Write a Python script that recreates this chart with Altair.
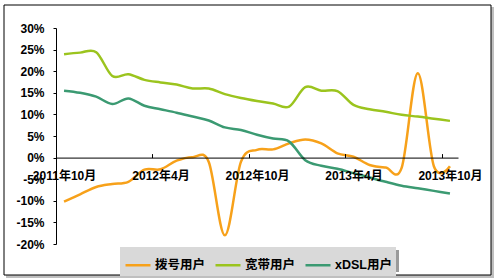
import altair as alt
import pandas as pd

# ---- data -------------------------------------------------------------
months = ["2011年10月", "2011年11月", "2011年12月", "2012年1月", "2012年2月",
          "2012年3月", "2012年4月", "2012年5月", "2012年6月", "2012年7月",
          "2012年8月", "2012年9月", "2012年10月", "2012年11月", "2012年12月",
          "2013年1月", "2013年2月", "2013年3月", "2013年4月", "2013年5月",
          "2013年6月", "2013年7月", "2013年8月", "2013年9月", "2013年10月"]

series_names = ["拨号用户", "宽带用户", "xDSL用户"]
series_colors = ["#F7A11A", "#9BC41E", "#3B9A72"]

dialup = [-10.2, -8.5, -6.8, -6.1, -5.6, -2.8, -2.7, -0.7, 0.1, -1.0,
          -18.0, -1.0, 1.8, 1.9, 3.3, 4.2, 3.3, 1.0, 0.2, -1.7,
          -2.3, -2.3, 19.5, -2.0, -2.0]
broadband = [23.9, 24.3, 24.4, 18.9, 19.3, 18.0, 17.4, 16.9, 16.0, 16.0,
             14.7, 13.8, 13.1, 12.5, 11.8, 16.3, 15.5, 15.4, 12.2, 11.2,
             10.6, 9.9, 9.5, 9.0, 8.5]
xdsl = [15.5, 15.0, 14.1, 12.4, 13.7, 12.0, 11.2, 10.4, 9.5, 8.6,
        7.0, 6.4, 5.3, 4.4, 3.7, -0.6, -1.9, -2.6, -3.6, -4.6,
        -5.6, -6.5, -7.1, -7.7, -8.3]

tick_idx = [0, 6, 12, 18, 24]          # labelled categories
y_ticks = [-20, -15, -10, -5, 0, 5, 10, 15, 20, 25, 30]

# ---- table --------------------------------------------------------------
rows = []
for name, vals in zip(series_names, [dialup, broadband, xdsl]):
    for i, v in enumerate(vals):
        rows.append({"i": i, "month": months[i], "v": v, "series": name})
df = pd.DataFrame(rows)

W, H = 402, 216
YMIN, YMAX = y_ticks[0], y_ticks[-1]
FONT = "Liberation Sans, Arial, Noto Sans CJK SC"
LEG_X, LEG_Y, LEG_W, LEG_H = 64, 219, 276, 22

x_scale = alt.Scale(domain=[-0.5, len(months) - 0.5], nice=False, zero=False)
y_scale = alt.Scale(domain=[YMIN, YMAX], nice=False, zero=False)

boundaries = [t - 0.5 for t in tick_idx]
label_expr = "[" + ",".join("'%s'" % m for m in months) + "][datum.value]"

color = alt.Color(
    "series:N",
    scale=alt.Scale(domain=series_names, range=series_colors),
    sort=series_names,
    legend=alt.Legend(
        orient="none", legendX=LEG_X, legendY=LEG_Y, direction="horizontal",
        title=None, fillColor="#d9d9d9", padding=4,
        symbolType="stroke", symbolSize=625, symbolStrokeWidth=2.5,
        labelFont=FONT, labelFontSize=12.5, labelFontWeight="bold",
        labelColor="black", labelOffset=3, columnPadding=4,
    ),
)

lines = alt.Chart(df).mark_line(interpolate="cardinal", strokeWidth=2.5).encode(
    x=alt.X("i:Q", scale=x_scale, title=None,
            axis=alt.Axis(orient="top", offset=-H * YMAX / (YMAX - YMIN),
                          values=boundaries, labels=False, ticks=True,
                          tickSize=4, tickColor="black", domainColor="black",
                          domainWidth=1, grid=False, zindex=1)),
    y=alt.Y("v:Q", scale=y_scale, title=None,
            axis=alt.Axis(values=y_ticks, labelExpr="datum.value + '%'",
                          grid=False, domainColor="black", tickColor="black",
                          tickSize=3, labelFont=FONT, labelFontSize=12,
                          labelFontWeight="bold", labelColor="black",
                          labelPadding=9, zindex=1)),
    color=color,
)

label_layer = alt.Chart(pd.DataFrame({"i": tick_idx})).mark_point(opacity=0).encode(
    x=alt.X("i:Q", scale=x_scale, title=None,
            axis=alt.Axis(orient="bottom", offset=-H * (-YMIN) / (YMAX - YMIN),
                          values=tick_idx, labelExpr=label_expr, ticks=False,
                          tickSize=0, domain=False, grid=False,
                          labelFont=FONT, labelFontSize=12,
                          labelFontWeight="bold", labelColor="black",
                          labelPadding=13, zindex=1)),
)

one = pd.DataFrame({"a": [0]})
frame_shadow = alt.Chart(one).mark_rect(fill="#bfbfbf").encode(
    x=alt.value(-50), x2=alt.value(438), y=alt.value(-21), y2=alt.value(250)
)
frame = alt.Chart(one).mark_rect(fill="white", stroke="black", strokeWidth=1).encode(
    x=alt.value(-52), x2=alt.value(435), y=alt.value(-23), y2=alt.value(247)
)
legend_shadow = alt.Chart(one).mark_rect(fill="#9a9a9a").encode(
    x=alt.value(LEG_X + 3), x2=alt.value(LEG_X + LEG_W + 3),
    y=alt.value(LEG_Y + 3), y2=alt.value(LEG_Y + LEG_H + 3)
)

chart = alt.layer(frame_shadow, frame, legend_shadow, lines, label_layer).resolve_scale(
    x="shared"
).resolve_axis(x="independent").properties(
    width=W, height=H,
    autosize=alt.AutoSizeParams(type="none"),
    padding={"left": 56, "top": 28, "right": 41, "bottom": 34},
    background="white",
).configure_view(stroke=None)

chart.save("out.html", embed_options={"renderer": "svg", "actions": False})
